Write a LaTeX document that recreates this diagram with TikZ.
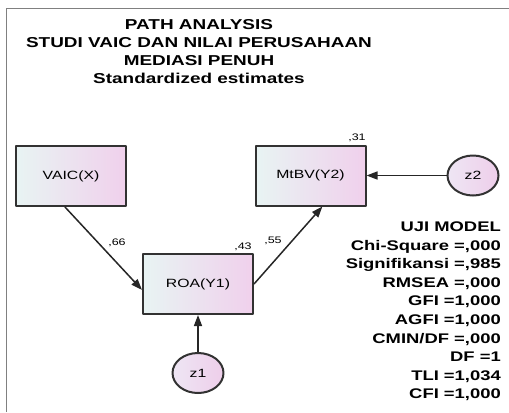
\documentclass[tikz,border=0pt]{standalone}
\usepackage{fontspec}
\setmainfont{Liberation Sans}[FakeStretch=1.32]
\usetikzlibrary{arrows.meta,shapes.geometric}
\definecolor{boxleft}{RGB}{232,244,243}
\definecolor{boxright}{RGB}{240,208,236}
\definecolor{ovalleft}{RGB}{238,230,244}
\definecolor{ovalright}{RGB}{238,206,234}
\definecolor{rim}{RGB}{50,50,50}
\begin{document}
\begin{tikzpicture}[x=1bp,y=-1bp,>={Triangle[length=11bp,width=8bp]},line join=round,
	obs/.style={draw=rim,line width=2bp,left color=boxleft,right color=boxright,minimum width=110bp,minimum height=60bp,inner sep=0pt,font=\fontsize{12}{14}\selectfont},
	res/.style={ellipse,draw=rim,line width=2bp,left color=ovalleft,right color=ovalright,minimum width=51bp,minimum height=40bp,inner sep=0pt,font=\fontsize{12}{14}\selectfont},
	est/.style={font=\fontsize{9.5}{11}\selectfont,inner sep=0pt},
	head/.style={font=\bfseries\fontsize{14}{16}\selectfont,inner sep=0pt,anchor=base},
	title/.style={head,font=\bfseries\fontsize{14.4}{16}\selectfont},
	link/.style={->,draw=black!85,line width=1.5bp}]
	\useasboundingbox (0,0) rectangle (509,412);
	\draw[gray,line width=1.8bp] (6.5,412) -- (6.5,8.5) -- (509,8.5);
	% title
	\node[title] (t1) at (199,29) {PATH ANALYSIS};
	\node[title] (t2) at (199,47.5) {STUDI VAIC DAN NILAI PERUSAHAAN};
	\node[title] (t3) at (199,65.5) {MEDIASI PENUH};
	\node[title] (t4) at (199,83.5) {Standardized estimates};
	% variables
	\node[obs] (vaic) at (71,176) {VAIC(X)};
	\node[obs] (roa) at (198,284) {ROA(Y1)};
	\node[obs] (mtbv) at (310.5,175.5) {MtBV(Y2)};
	\node[res] (z1) at (198,373) {z1};
	\node[res] (z2) at (473,175.5) {z2};
	% paths
	\draw[link] (vaic.259) -- (roa.186);
	\draw[link] (roa.east) -- (mtbv.291);
	\draw[link] (z1) -- (roa);
	\draw[link] (z2) -- (mtbv);
	\node[est] (e31) at (357,138) {,31};
	\node[est] (e66) at (117,243) {,66};
	\node[est] (e43) at (243,247) {,43};
	\node[est] (e55) at (273,241) {,55};
	% fit indices
	\foreach \txt [count=\i from 0] in {UJI MODEL,{Chi-Square =,000},{Signifikansi =,985},{RMSEA =,000},{GFI =1,000},{AGFI =1,000},{CMIN/DF =,000},DF =1,{TLI =1,034},{CFI =1,000}}
		\node[head,anchor=base east] (fit\i) at (501,{231.5+18.6*\i}) {\txt};
\end{tikzpicture}
\end{document}
